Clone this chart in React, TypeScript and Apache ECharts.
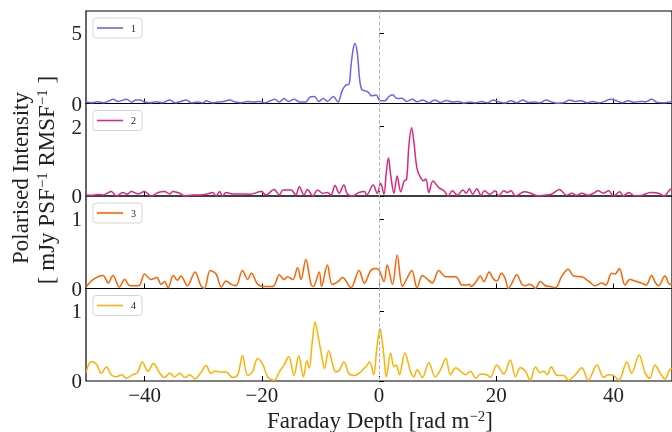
import React, { useEffect, useRef } from "react";
import * as echarts from "echarts";

const xTicks = [-40, -20, 0, 20, 40];
const seriesNames = ["1", "2", "3", "4"];
const colors = ["#785ef0", "#dc267f", "#fe6100", "#ffb000"];
const yMax = [6.6, 2.67, 1.34, 1.32];
const yTicks = [[0, 5], [0, 2], [0, 1], [0, 1]];

const pol1: [number, number][] = [
  [-50, 0.1], [-49, 0.05], [-48, 0.12], [-47, 0.05], [-46, 0.2], [-45.4, 0.3], [-44.5, 0.15], [-43.1, 0.3], [-42.2, 0.1],
  [-41.5, 0.25], [-40.8, 0.25], [-40, 0.1], [-39, 0.05], [-38, 0.12], [-37, 0.05], [-35.7, 0.25], [-34.8, 0.05], [-33.8, 0.15],
  [-32.9, 0.25], [-32, 0.05], [-31, 0.1], [-30, 0.05], [-29.5, 0.2], [-28.5, 0.05], [-27.5, 0.1], [-26.5, 0.15], [-25.5, 0.25],
  [-24.5, 0.1], [-23.5, 0.05], [-22.5, 0.15], [-21.5, 0.1], [-20.5, 0.15], [-19.5, 0.05], [-18.5, 0.2], [-17.8, 0.3], [-17, 0.1],
  [-16.2, 0.35], [-15.4, 0.15], [-14.5, 0.3], [-13.5, 0.1], [-12.5, 0.1], [-11.8, 0.45], [-11, 0.5], [-10.3, 0.15], [-9.5, 0.35],
  [-8.8, 0.15], [-7.8, 0.5], [-7, 0.1], [-6.3, 0.9], [-5.7, 1.3], [-5.1, 1.4], [-4.8, 2.6], [-4.4, 3.9], [-4.1, 4.28], [-3.7, 3.6],
  [-3.3, 1.7], [-2.95, 1.0], [-2.4, 0.9], [-1.8, 0.8], [-1.3, 0.55], [-0.5, 0.6], [0.2, 0.2], [1, 0.2], [1.7, 0.5], [2.3, 0.62],
  [3.1, 0.35], [3.9, 0.38], [4.7, 0.15], [5.7, 0.3], [6.5, 0.12], [7.5, 0.25], [8.5, 0.05], [9.5, 0.25], [10.5, 0.08], [11.5, 0.22],
  [12.5, 0.1], [13.5, 0.15], [14.5, 0.03], [15.5, 0.1], [16.5, 0.05], [17.5, 0.15], [18.5, 0.05], [19.5, 0.25], [20.5, 0.1],
  [21.5, 0.03], [22.5, 0.2], [23.5, 0.05], [24.5, 0.25], [25.5, 0.08], [26.5, 0.1], [27.5, 0.05], [28.5, 0.25], [29.5, 0.1],
  [30.5, 0.02], [31.5, 0.05], [32.5, 0.25], [33.5, 0.15], [34.5, 0.2], [35.5, 0.05], [36.5, 0.15], [37.5, 0.05], [38.5, 0.15],
  [39.5, 0.3], [40.5, 0.2], [41.5, 0.05], [42.5, 0.2], [43.5, 0.08], [44.5, 0.15], [45.5, 0.12], [46.5, 0.3], [47.5, 0.08],
  [48.5, 0.05], [49.5, 0.1], [50, 0.12],
];

const pol2: [number, number][] = [
  [-50, 0.03], [-49, 0.02], [-48, 0.04], [-47, 0.03], [-46.4, 0.08], [-45.7, 0.13], [-44.8, 0.0], [-43.7, 0.1], [-43, 0.05],
  [-42.3, 0.13], [-41.1, 0.06], [-40, 0.13], [-38.9, 0.0], [-37.7, 0.1], [-36.6, 0.13], [-35.7, 0.06], [-35.2, 0.13], [-34, 0.08],
  [-33.2, 0.0], [-31.8, 0.03], [-30.5, 0.03], [-29.5, 0.05], [-28.4, 0.1], [-27.8, 0.0], [-27.2, 0.13], [-26.7, 0.0], [-26.1, 0.1],
  [-25, 0.06], [-23.5, 0.06], [-22, 0.05], [-20.1, 0.13], [-19.3, 0.03], [-17.9, 0.19], [-17, 0.03], [-16.4, 0.17], [-15, 0.17],
  [-14.2, 0.03], [-13.6, 0.27], [-12.8, 0.03], [-12.2, 0.19], [-11.3, 0.0], [-10.5, 0.17], [-9.6, 0.08], [-8.8, 0.1], [-8.2, 0.03],
  [-7.5, 0.3], [-6.8, 0.08], [-6, 0.32], [-5.4, 0.06], [-4.5, 0.0], [-3.4, 0.1], [-2.5, 0.13], [-2.1, 0.03], [-1.0, 0.32],
  [-0.3, 0.08], [0.28, 0.37], [0.85, 0.05], [1.2, 0.6], [1.6, 1.1], [2.0, 0.6], [2.55, 0.08], [3.1, 0.58], [3.7, 0.12], [4.3, 0.44],
  [4.7, 0.47], [5.1, 1.45], [5.56, 1.97], [5.96, 1.55], [6.5, 0.78], [7.1, 0.53], [7.6, 0.44], [8.0, 0.49], [8.5, 0.1], [9.2, 0.43],
  [10.2, 0.24], [11.1, 0.15], [11.8, 0.0], [12.5, 0.15], [13.4, 0.02], [14.3, 0.17], [14.9, 0.08], [15.4, 0.21], [16, 0.05],
  [16.7, 0.21], [17.4, 0.02], [18, 0.15], [18.9, 0.05], [19.8, 0.15], [20.4, 0.0], [21.3, 0.15], [21.9, 0.1], [22.5, 0.15],
  [23.3, 0.0], [24.8, 0.12], [25.9, 0.08], [27.1, 0.0], [28.2, 0.02], [29.4, 0.05], [30.8, 0.19], [32, 0.02], [32.9, 0.08],
  [33.7, 0.02], [34.6, 0.08], [35.7, 0.02], [36.6, 0.08], [37.4, 0.15], [38.3, 0.08], [39.2, 0.15], [40, 0.0], [41.1, 0.12],
  [41.7, 0.0], [42.6, 0.1], [43.7, 0.0], [44.9, 0.02], [46.3, 0.1], [47.7, 0.08], [48.6, 0.0], [49.7, 0.19], [50, 0.2],
];

const pol3: [number, number][] = [
  [-50, 0.02], [-48.8, 0.13], [-47.1, 0.19], [-46.2, 0.08], [-45.4, 0.19], [-44.3, 0.02], [-43.4, 0.13], [-42.5, 0.04], [-41, 0.04],
  [-40, 0.21], [-38.9, 0.13], [-37.9, 0.16], [-37.2, 0.06], [-36.6, 0.1], [-36, 0.01], [-35.1, 0.19], [-34.4, 0.12], [-33.8, 0.18],
  [-32.7, 0.04], [-31.4, 0.24], [-30.4, 0.04], [-29.8, 0.0], [-28.8, 0.26], [-27.8, 0.21], [-26.9, 0.02], [-26.1, 0.11],
  [-25.2, 0.06], [-24.4, 0.04], [-23.3, 0.26], [-22.4, 0.13], [-21.8, 0.22], [-20.7, 0.06], [-19.8, 0.03], [-18.1, 0.03],
  [-17, 0.2], [-16.2, 0.13], [-15.6, 0.17], [-14.7, 0.13], [-13.9, 0.3], [-13.3, 0.13], [-12.5, 0.42], [-11.6, 0.06], [-11.2, 0.03],
  [-10.2, 0.24], [-9.8, 0.03], [-8.8, 0.34], [-8, 0.06], [-7, 0.1], [-6.2, 0.16], [-4.8, 0.01], [-3.4, 0.26], [-2.5, 0.08],
  [-1.4, 0.26], [-0.6, 0.29], [0, 0.27], [0.85, 0.1], [1.4, 0.34], [2.3, 0.06], [3.1, 0.48], [4, 0.03], [4.8, 0.15], [5.6, 0.26],
  [6.5, 0.01], [7.4, 0.19], [8.2, 0.14], [9.1, 0.08], [10.2, 0.26], [11.4, 0.17], [13.1, 0.17], [14.2, 0.05], [14.8, 0.05],
  [15.4, 0.06], [15.7, 0.03], [16.5, 0.09], [17.3, 0.18], [17.9, 0.1], [18.8, 0.24], [19.5, 0.14], [20.1, 0.11], [20.9, 0.22],
  [21.5, 0.15], [22.1, 0.0], [22.7, 0.08], [23.5, 0.2], [24.4, 0.06], [25, 0.04], [25.6, 0.06], [26.1, 0.05], [26.7, 0.0],
  [27.5, 0.1], [28.4, 0.04], [29.2, 0.03], [30.1, 0.01], [31.2, 0.18], [32.3, 0.28], [33.2, 0.18], [34.6, 0.17], [35.7, 0.11],
  [36.9, 0.04], [38, 0.08], [38.7, 0.05], [39.7, 0.22], [40.3, 0.21], [41, 0.29], [42, 0.05], [42.8, 0.13], [43.7, 0.11],
  [44.8, 0.08], [45.6, 0.05], [46.5, 0.19], [47.2, 0.08], [47.7, 0.04], [48.8, 0.18], [49.6, 0.06], [50, 0.08],
];

const pol4: [number, number][] = [
  [-50, 0.12], [-49.1, 0.28], [-48.2, 0.24], [-47.4, 0.11], [-46.5, 0.2], [-45.7, 0.09], [-44.8, 0.06], [-43.9, 0.09], [-43.1, 0.04],
  [-42, 0.09], [-41.2, 0.12], [-40.4, 0.27], [-39.4, 0.14], [-38.5, 0.25], [-37.4, 0.11], [-36.6, 0.05], [-35.7, 0.11],
  [-34.9, 0.06], [-34, 0.11], [-33.1, 0.05], [-32.3, 0.09], [-31.4, 0.03], [-30.4, 0.12], [-29.5, 0.22], [-28.7, 0.11],
  [-28, 0.14], [-27.2, 0.13], [-26.1, 0.13], [-25, 0.05], [-24.1, 0.09], [-23.3, 0.36], [-22.4, 0.08], [-21.6, 0.13],
  [-20.7, 0.32], [-19.8, 0.23], [-19, 0.06], [-17.9, 0.01], [-17, 0.13], [-16.2, 0.23], [-15.4, 0.35], [-14.5, 0.08],
  [-13.7, 0.36], [-12.9, 0.06], [-12.3, 0.29], [-11.9, 0.18], [-11.4, 0.55], [-10.9, 0.84], [-10.4, 0.65], [-9.9, 0.42],
  [-9.3, 0.18], [-8.6, 0.43], [-7.8, 0.2], [-7.4, 0.13], [-6.8, 0.15], [-6, 0.27], [-5.1, 0.1], [-4.3, 0.08], [-3.4, 0.11],
  [-2.3, 0.2], [-1.6, 0.27], [-0.9, 0.09], [-0.4, 0.45], [0.17, 0.75], [0.5, 0.6], [0.85, 0.35], [1.25, 0.06], [1.99, 0.4],
  [2.55, 0.2], [2.95, 0.23], [3.5, 0.09], [4.4, 0.4], [5.4, 0.13], [5.96, 0.06], [6.5, 0.16], [7.4, 0.05], [8.5, 0.26], [9.6, 0.06],
  [10.5, 0.16], [11.4, 0.32], [12.2, 0.09], [13.1, 0.19], [13.9, 0.14], [14.8, 0.09], [15.6, 0.14], [16.5, 0.04], [17.3, 0.1],
  [18.4, 0.09], [19, 0.05], [20.1, 0.23], [21.3, 0.1], [22.4, 0.3], [23.3, 0.06], [24.1, 0.19], [25, 0.14], [25.8, 0.01],
  [26.7, 0.2], [27.5, 0.12], [28.1, 0.14], [28.7, 0.09], [29.4, 0.2], [30.4, 0.08], [31.5, 0.08], [32.3, 0.01], [33.5, 0.09],
  [34.6, 0.19], [35.7, 0.01], [37.2, 0.23], [38.3, 0.05], [39.1, 0.09], [40, 0.08], [40.9, 0.01], [42.3, 0.27], [43.1, 0.11],
  [44.4, 0.37], [45.4, 0.12], [46.2, 0.04], [47.1, 0.23], [48, 0.11], [48.8, 0.03], [49.6, 0.16], [50, 0.18],
];

const allData = [pol1, pol2, pol3, pol4];

const FONT = "'Liberation Serif', 'DejaVu Serif', serif";
const fmt = (v: number) => (v < 0 ? "\u2212" + Math.abs(v) : String(v));

export default function App() {
  const ref = useRef<HTMLDivElement>(null);
  useEffect(() => {
    if (!ref.current) return;
    const chart = echarts.init(ref.current, undefined, { renderer: "svg" });
    const tops = [11, 103.5, 196, 288.5];
    const h = 92.5;
    const grid = tops.map((t) => ({
      left: 86, top: t, width: 588, height: h, show: true,
      borderColor: "#000", borderWidth: 1.2, backgroundColor: "transparent",
    }));
    const xAxis = tops.map((_, i) => ({
      type: "value", gridIndex: i, min: -50, max: 50,
      axisLine: { show: false },
      splitLine: { show: false },
      axisTick: { show: true, inside: true, length: 5, customValues: xTicks, lineStyle: { color: "#000", width: 1 } },
      axisLabel: {
        show: i === 3, customValues: xTicks, formatter: fmt, color: "#222",
        fontFamily: FONT, fontSize: 21, lineHeight: 20, margin: 4,
      },
    }));
    const yAxis = tops.map((_, i) => ({
      type: "value", gridIndex: i, min: 0, max: yMax[i],
      axisLine: { show: false },
      splitLine: { show: false },
      axisTick: { show: true, inside: true, length: 5, customValues: yTicks[i], lineStyle: { color: "#000", width: 1 } },
      axisLabel: {
        customValues: yTicks[i], color: "#222", fontFamily: FONT, fontSize: 21, margin: 4,
      },
    }));
    const series = allData.map((d, i) => ({
      type: "line", name: seriesNames[i], xAxisIndex: i, yAxisIndex: i, data: d,
      symbol: "none", showSymbol: false, smooth: 0.35,
      lineStyle: { color: colors[i], width: 1.5 }, itemStyle: { color: colors[i] },
      markLine: {
        silent: true, symbol: ["none", "none"], label: { show: false },
        lineStyle: { type: "dashed", color: "#b4b4b4", width: 1 },
        data: [{ xAxis: 0 }],
      },
    }));
    const legend = tops.map((t, i) => ({
      data: [{ name: seriesNames[i], icon: "rect" }], left: 93, top: t + 7, orient: "vertical",
      itemWidth: 26, itemHeight: 1.6, padding: [4, 6, 4, 4],
      backgroundColor: "#fff", borderColor: "#d4d4d4", borderWidth: 1, borderRadius: 3,
      textStyle: { fontFamily: FONT, fontSize: 10, lineHeight: 12, color: "#222", padding: [0, 0, 0, 3] },
    }));
    const rich = {
      n: { fontFamily: FONT, fontSize: 23, lineHeight: 24, fill: "#222" },
      s: { fontFamily: FONT, fontSize: 15, lineHeight: 24, verticalAlign: "top", fill: "#222", padding: [0, 0, 8, 0] },
    };
    chart.setOption({
      animation: false,
      grid, xAxis, yAxis, series, legend,
      graphic: [
        {
          type: "text", x: 20, y: 178, rotation: Math.PI / 2,
          style: {
            text: "Polarised Intensity", fill: "#222", font: `23px ${FONT}`,
            textAlign: "center", textVerticalAlign: "middle",
          },
        },
        {
          type: "text", x: 46, y: 180, rotation: Math.PI / 2,
          style: {
            text: "{n|[ mJy PSF}{s|\u22121}{n| RMSF}{s|\u22121}{n| ]}",
            fill: "#222", textAlign: "center", textVerticalAlign: "middle", rich,
          },
        },
        {
          type: "text", x: 380, y: 420,
          style: {
            text: "{n|Faraday Depth [rad m}{s|\u22122}{n|]}",
            fill: "#222", textAlign: "center", textVerticalAlign: "middle", rich,
          },
        },
      ],
    });
    return () => chart.dispose();
  }, []);
  return <div ref={ref} style={{ position: "fixed", left: 0, top: 0, width: 672, height: 432 }} />;
}
